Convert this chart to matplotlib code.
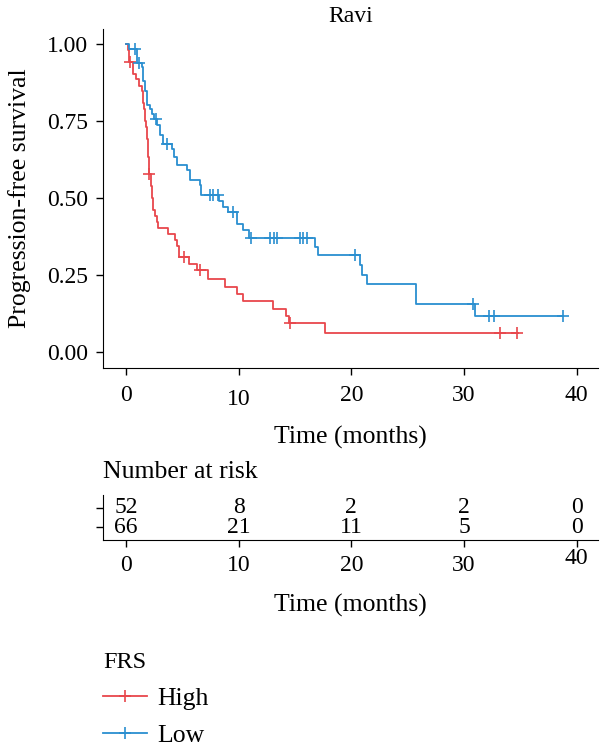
import numpy as np
import matplotlib
matplotlib.use('Agg')
import matplotlib.pyplot as plt
from matplotlib.lines import Line2D

# Kaplan-Meier steps (time in months, survival after the step)
high_t = [0, 0.15, 0.25, 0.6, 0.86, 1.18, 1.39, 1.5, 1.6, 1.68, 1.75, 1.83, 1.92, 2.0,
          2.2, 2.3, 2.42, 2.57, 2.72, 2.86, 3.75, 4.35, 4.5, 4.73, 5.62, 6.3, 7.3, 8.75,
          9.88, 10.4, 13.07, 14.2, 14.45, 17.66]
high_s = [1.0, 0.981, 0.942, 0.904, 0.885, 0.865, 0.846, 0.808, 0.788, 0.75, 0.731, 0.692,
          0.635, 0.577, 0.538, 0.50, 0.462, 0.442, 0.423, 0.404, 0.385, 0.365, 0.346, 0.31,
          0.288, 0.266, 0.237, 0.213, 0.19, 0.166, 0.142, 0.119, 0.095, 0.064]
high_end = 34.8
high_cens = [0.4, 2.07, 5.15, 6.6, 14.6, 33.2, 34.7]

low_t = [0, 0.27, 0.95, 1.39, 1.54, 1.69, 1.83, 2.13, 2.28, 2.5, 2.78, 3.0, 3.31, 4.05,
         4.26, 4.5, 5.38, 5.68, 6.57, 6.7, 8.3, 8.6, 9.08, 9.82, 10.4, 10.95, 16.77, 17.07,
         20.76, 20.97, 21.36, 25.7, 30.97]
low_s = [1.0, 0.985, 0.94, 0.924, 0.879, 0.848, 0.803, 0.788, 0.773, 0.758, 0.737, 0.705,
         0.677, 0.661, 0.634, 0.607, 0.591, 0.558, 0.542, 0.51, 0.49, 0.472, 0.455, 0.415,
         0.396, 0.372, 0.342, 0.315, 0.284, 0.252, 0.221, 0.158, 0.117]
low_end = 38.8
low_cens = [0.8, 1.18, 2.63, 3.6, 7.45, 7.7, 8.15, 9.5, 11.07, 12.8, 13.1, 13.4, 15.45,
            15.75, 16.1, 20.3, 30.76, 32.2, 32.7, 38.8]

risk_times = [0, 10, 20, 30, 40]
risk_high = [52, 8, 2, 2, 0]
risk_low = [66, 21, 11, 5, 0]

red = '#E8474C'
blue = '#2A8FD0'

plt.rcParams['font.family'] = ['Liberation Serif', 'DejaVu Serif']
plt.rcParams['font.size'] = 17
LAB = 18.5


def surv_at(ts, ss, t):
    i = np.searchsorted(ts, t, side='right') - 1
    return np.asarray(ss)[i]


fig = plt.figure(figsize=(6, 7.49), dpi=100)
W, H = 600, 749
xlo, xhi = -2.04, 41.9

ax = fig.add_axes([103 / W, 1 - 367.7 / H, 495 / W, (367.7 - 28.6) / H])
for ts, ss, end, cens, col in [(high_t, high_s, high_end, high_cens, red),
                               (low_t, low_s, low_end, low_cens, blue)]:
    ax.step(ts + [end], ss + [ss[-1]], where='post', color=col, lw=1.3)
    ax.plot(cens, surv_at(ts, ss, cens), ls='none', marker='+', ms=9, mew=1.2, color=col)

ax.set_xlim(xlo, xhi)
ax.set_ylim(-0.05, 1.05)
ax.set_yticks([0, 0.25, 0.5, 0.75, 1.0])
ax.set_yticklabels(['0.00', '0.25', '0.50', '0.75', '1.00'])
ax.set_xticks(risk_times)
for s in ['top', 'right']:
    ax.spines[s].set_visible(False)
ax.tick_params(direction='out', length=5, width=1, pad=5.5)
ax.tick_params(axis='x', pad=7.5)
ax.xaxis.get_major_ticks()[1].set_pad(10)
ax.set_xlabel('Time (months)', fontsize=LAB, labelpad=12)
ax.set_ylabel('Progression-free survival', fontsize=LAB, labelpad=12)
ax.set_title('Ravi', fontsize=17, pad=5)

# risk table
rt = fig.add_axes([103 / W, 1 - 540 / H, 495 / W, 45 / H])
rt.set_xlim(xlo, xhi)
rt.set_ylim(-0.68, 1.68)
for t, a, b in zip(risk_times, risk_high, risk_low):
    rt.text(t, 1, str(a), ha='center', va='center')
    rt.text(t, 0, str(b), ha='center', va='center')
rt.set_yticks([0, 1])
rt.set_yticklabels(['', ''])
rt.set_xticks(risk_times)
for s in ['top', 'right']:
    rt.spines[s].set_visible(False)
rt.tick_params(direction='out', length=5, width=1, pad=5.5)
rt.xaxis.get_major_ticks()[4].set_pad(1)
rt.set_xlabel('Time (months)', fontsize=LAB, labelpad=13)
fig.text(103 / W, 1 - 472 / H, 'Number at risk', ha='left', va='center', fontsize=LAB)

handles = [Line2D([], [], color=red, marker='+', ms=9, mew=1.2, lw=1.3),
           Line2D([], [], color=blue, marker='+', ms=9, mew=1.2, lw=1.3)]
fig.legend(handles, ['High', 'Low'], title='FRS', loc='upper left',
           bbox_to_anchor=(103 / W, 1 - 652 / H), frameon=False, alignment='left',
           fontsize=LAB, title_fontsize=17.5, borderpad=0,
           handlelength=1.7, handletextpad=0.4, labelspacing=0.55, borderaxespad=0)

fig.savefig('out.png', dpi=100)
